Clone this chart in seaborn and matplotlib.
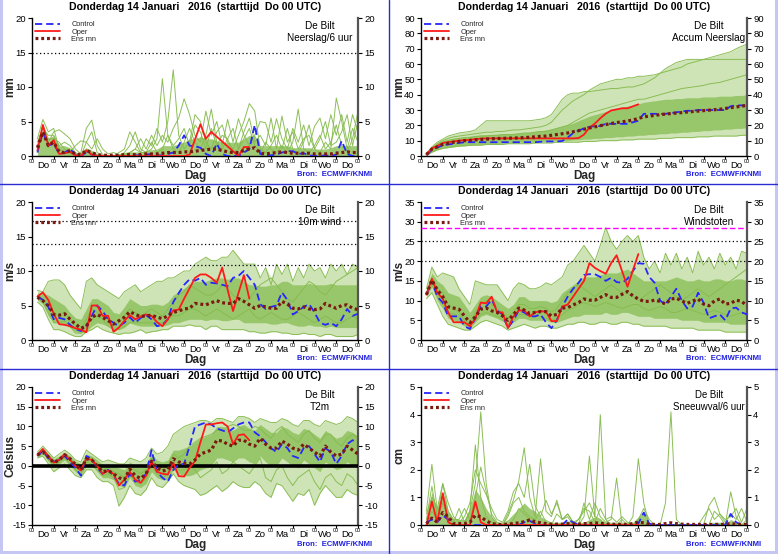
import matplotlib
matplotlib.use("Agg")
import matplotlib.pyplot as plt
import seaborn as sns
import numpy as np
from matplotlib.patches import Rectangle
from matplotlib.lines import Line2D

sns.set_theme(style="white")
plt.rcParams["font.family"] = ["Liberation Sans", "DejaVu Sans"]

# ---------------- time axis (6-hourly steps, 6h .. 360h) ----------------
hours = list(range(6, 361, 6))
day_names = ["Do", "Vr", "Za", "Zo", "Ma", "Di", "Wo", "Do", "Vr", "Za", "Zo", "Ma", "Di", "Wo", "Do"]
title_txt = "Donderdag 14 Januari   2016  (starttijd  Do 00 UTC)"
station = "De Bilt"

# ---------------- Neerslag / 6 uur (mm) ----------------
pr_ctrl = [0.5, 3.5, 1.5, 1.8, 0.3, 0.5, 1.0, 0.2, 0.0, 0.5,
           0.2, 0.0, 0.0, 0.0, 0.0, 0.0, 0.0, 0.0, 0.1, 0.1,
           0.2, 0.3, 0.1, 0.1, 0.3, 0.5, 1.5, 3.0, 1.5, 1.4,
           1.2, 0.3, 0.0, 1.8, 0.3, 0.0, 0.0, 0.0, 0.5, 1.0,
           4.5, 0.3, 0.1, 0.1, 0.2, 0.5, 0.7, 0.7, 0.3, 0.4,
           0.1, 0.0, 0.0, 0.1, 0.0, 0.2, 2.2, 0.3, 0.0, 0.0]
pr_oper = [0.8, 4.5, 1.5, 2.3, 0.3, 0.4, 0.6, 0.1, 0.0, 0.8,
           0.2, 0.0, 0.0, 0.0, 0.0, 0.0, 0.0, 0.0, 0.0, 0.0,
           0.0, 0.0, 0.0, 0.0, 0.0, 0.0, 0.0, 0.0, 0.2, 2.4,
           4.6, 2.5, 3.5, 2.8, 2.1, 1.4, 0.7, 0.0, 1.3, 1.3]
pr_mean = [1.2, 3.5, 1.5, 2.0, 0.6, 0.5, 0.8, 0.3, 0.2, 0.8,
           0.5, 0.2, 0.1, 0.1, 0.1, 0.1, 0.2, 0.2, 0.2, 0.2,
           0.3, 0.3, 0.3, 0.4, 0.5, 0.5, 0.5, 0.6, 0.6, 0.7,
           0.8, 0.9, 1.0, 1.0, 0.8, 0.6, 0.5, 0.5, 0.8, 1.0,
           1.2, 0.4, 0.3, 0.4, 0.5, 0.6, 0.5, 0.4, 0.4, 0.4,
           0.4, 0.3, 0.3, 0.3, 0.3, 0.4, 0.5, 0.6, 0.5, 0.5]
pr_band_lo = [0.0] * 60
pr_band_hi = [1.5, 4.0, 2.5, 3.0, 1.5, 1.5, 1.2, 0.4, 0.5, 1.2,
              0.8, 0.3, 0.1, 0.1, 0.1, 0.2, 0.5, 0.6, 0.6, 0.6,
              0.8, 0.9, 1.0, 1.5, 1.5, 1.5, 1.8, 2.0, 2.5, 2.5,
              2.8, 2.5, 2.5, 2.2, 2.0, 2.0, 2.0, 2.0, 2.5, 3.0,
              3.0, 1.5, 1.5, 1.5, 1.5, 1.5, 1.5, 1.2, 1.2, 1.2,
              1.2, 1.0, 1.0, 1.0, 1.2, 1.5, 1.5, 1.5, 1.5, 1.5]
pr_members = [
    [2.5, 5.3, 3.5, 4.0, 1.0, 0.5, 0.3, 0.0, 0.5, 4.0,
     5.2, 1.5, 0.2, 0.0, 0.0, 0.0, 0.5, 1.5, 3.5, 1.0,
     0.5, 1.0, 2.5, 11.2, 3.0, 1.0, 0.5, 2.0, 4.0, 2.0,
     1.0, 3.0, 6.8, 2.0, 1.0, 2.5, 0.5, 1.0, 2.5, 4.0,
     1.5, 0.5, 2.0, 1.0, 0.5, 1.5, 0.5, 2.0, 6.8, 1.0,
     0.5, 1.5, 3.0, 1.0, 2.0, 4.5, 1.5, 0.5, 2.5, 6.5],
    [1.0, 3.0, 2.0, 3.5, 3.8, 3.2, 2.5, 1.0, 0.3, 1.0,
     0.5, 0.2, 0.0, 0.0, 0.0, 0.5, 1.0, 3.5, 2.0, 0.5,
     2.5, 1.5, 4.0, 2.0, 5.0, 12.5, 3.0, 1.0, 2.0, 6.0,
     5.0, 2.0, 1.0, 3.5, 4.5, 2.0, 1.0, 3.0, 5.0, 7.6,
     6.5, 1.0, 0.5, 1.5, 3.0, 1.0, 4.0, 1.0, 0.5, 2.0,
     4.5, 1.0, 0.5, 2.0, 1.0, 8.4, 5.0, 1.0, 4.0, 2.0],
    [1.5, 4.5, 2.5, 2.5, 2.0, 1.0, 0.5, 1.5, 2.2, 2.0,
     1.0, 2.5, 1.0, 0.3, 0.5, 0.2, 0.3, 0.5, 1.0, 2.5,
     1.0, 3.0, 1.5, 3.0, 2.0, 4.0, 5.5, 8.3, 6.0, 3.0,
     2.0, 6.5, 3.0, 5.0, 1.5, 5.3, 2.0, 5.4, 3.0, 1.5,
     3.0, 5.0, 4.8, 2.0, 5.4, 2.5, 1.0, 4.0, 2.0, 4.5,
     1.5, 4.3, 5.5, 2.5, 6.0, 3.0, 6.0, 2.0, 6.0, 3.5],
    [2.0, 4.0, 3.0, 3.0, 1.5, 2.0, 1.5, 0.5, 0.0, 2.0,
     3.5, 0.5, 0.0, 0.0, 0.0, 0.0, 0.0, 0.5, 1.0, 0.5,
     0.5, 2.0, 0.5, 1.0, 3.0, 1.5, 2.5, 4.0, 1.5, 4.5,
     3.5, 1.0, 4.0, 1.5, 3.0, 2.5, 4.0, 1.0, 3.5, 5.5,
     2.0, 3.0, 1.5, 5.5, 1.0, 5.8, 2.0, 3.5, 1.0, 2.5,
     3.0, 1.0, 2.5, 5.0, 1.5, 2.0, 3.5, 6.0, 1.5, 5.0],
]

# ---------------- Accum Neerslag (mm) ----------------
ac_ctrl = [0.5, 4.0, 5.5, 7.0, 7.5, 8.0, 8.5, 9.0, 9.0, 9.0,
           9.0, 9.0, 9.0, 9.0, 9.0, 9.0, 9.0, 9.0, 9.0, 9.0,
           9.0, 9.3, 9.5, 9.5, 9.5, 9.8, 12.0, 15.0, 16.5, 18.0,
           19.0, 19.5, 19.5, 21.0, 21.0, 21.0, 21.0, 21.0, 22.0, 23.0,
           27.5, 27.5, 27.5, 27.5, 27.5, 28.0, 28.5, 29.0, 29.5, 29.5,
           30.0, 30.0, 30.0, 30.0, 30.0, 30.0, 32.5, 33.0, 33.0, 33.0]
ac_oper = [1.0, 5.0, 6.5, 8.5, 9.0, 9.5, 10.0, 10.3, 10.5, 11.0,
           11.3, 11.5, 11.5, 11.5, 11.5, 11.5, 11.5, 11.5, 11.5, 11.5,
           11.5, 11.5, 11.5, 11.5, 11.5, 11.5, 11.5, 11.5, 11.7, 14.0,
           18.6, 21.1, 24.6, 27.6, 29.7, 30.4, 31.1, 31.1, 32.4, 33.7]
ac_mean = [1.0, 4.5, 6.0, 7.5, 8.3, 9.0, 9.5, 10.0, 10.2, 10.5,
           10.8, 11.0, 11.2, 11.4, 11.5, 11.6, 11.7, 11.8, 12.0, 12.2,
           12.5, 12.8, 13.0, 13.5, 14.0, 14.5, 15.0, 15.8, 16.5, 17.5,
           18.3, 19.0, 19.8, 20.5, 21.2, 21.8, 22.3, 22.8, 23.5, 24.5,
           25.5, 26.0, 26.5, 27.0, 27.3, 27.7, 28.0, 28.3, 28.7, 29.0,
           29.3, 29.6, 29.9, 30.2, 30.5, 31.0, 31.5, 32.0, 32.5, 33.0]
ac_band_lo = [0.3, 2.5, 4.0, 5.0, 5.5, 6.0, 6.5, 7.0, 7.0, 7.5,
              7.5, 8.0, 8.0, 8.0, 8.5, 8.5, 8.5, 9.0, 9.0, 9.0,
              9.0, 9.5, 9.5, 9.5, 10.0, 10.0, 10.0, 10.5, 10.5, 11.0,
              11.0, 11.5, 11.5, 12.0, 12.0, 12.5, 12.5, 13.0, 13.0, 13.5,
              13.5, 14.0, 14.0, 14.5, 14.5, 15.0, 15.0, 15.5, 15.5, 16.0,
              16.0, 16.5, 16.5, 17.0, 17.0, 17.5, 17.5, 18.0, 18.0, 18.5]
ac_band_hi = [1.8, 6.0, 8.5, 10.0, 11.0, 11.5, 12.0, 12.5, 13.0, 13.5,
              13.8, 14.0, 14.0, 14.2, 14.5, 14.5, 14.8, 15.0, 15.2, 15.5,
              16.0, 16.5, 17.0, 17.5, 18.5, 19.5, 20.5, 21.5, 23.0, 24.5,
              26.0, 27.0, 28.0, 29.0, 30.0, 31.0, 32.0, 32.5, 33.0, 34.0,
              35.0, 35.5, 36.0, 36.5, 37.0, 37.0, 37.5, 37.5, 38.0, 38.0,
              38.0, 38.5, 38.5, 38.5, 39.0, 39.0, 39.0, 39.5, 39.5, 40.0]
ac_members = [
    [1, 5, 8, 10, 11.5, 12.5, 13, 13.5, 14, 14.5,
     15, 15.5, 15.5, 16, 16, 16.5, 17, 17, 17.5, 18,
     18.5, 19, 20, 22, 26, 30, 33, 36, 38, 40,
     43, 45, 47, 48, 49, 50, 50, 51, 51, 52,
     52, 52.5, 53, 54, 55, 56, 57, 58, 60, 61,
     62, 63, 64, 65, 66, 67, 68, 70, 71.5, 73],
    [0.5, 2.5, 4, 5, 5.5, 6, 6.5, 6.5, 7, 7,
     7, 7.5, 7.5, 7.5, 7.5, 8, 8, 8, 8, 8,
     8.5, 8.5, 8.5, 8.5, 9, 9, 9, 9, 9, 9.5,
     9.5, 9.5, 10, 10, 10, 10, 10.5, 10.5, 10.5, 11,
     11, 11, 11, 11.5, 11.5, 11.5, 12, 12, 12, 12,
     12.5, 12.5, 12.5, 13, 13, 13, 13, 13, 13.5, 13.5],
    [1.5, 6, 9, 11, 13, 14, 15, 15.5, 16, 17,
     20, 23, 23, 23, 23, 23, 23, 23, 23, 23,
     23.5, 24, 25, 27, 32, 37, 40, 41, 41, 42,
     42, 42.5, 43, 43.5, 44, 44, 44.5, 45, 45, 46,
     47, 49, 51, 54, 57, 59, 61, 62, 63, 63,
     63, 63, 63, 63, 63, 63, 63, 63, 63, 63],
    [1, 4, 7, 9, 10, 11, 11.5, 12, 12, 12.5,
     13, 13, 13.5, 13.5, 14, 14, 14, 14.5, 15, 15,
     15.5, 16, 16, 17, 18, 19, 20, 22, 24, 26,
     28, 29, 30, 31, 32, 33, 34, 35, 36, 37,
     37, 38, 39, 40, 41, 42, 43, 44, 44.5, 45,
     45.5, 46, 47, 47.5, 48, 49, 50, 51, 52, 53],
]

# ---------------- 10m wind (m/s) ----------------
wd_ctrl = [6.3, 5.8, 4.8, 3.0, 3.2, 3.0, 2.2, 1.6, 1.3, 2.0,
           3.5, 5.0, 4.2, 3.0, 2.5, 2.0, 2.5, 3.3, 2.5, 3.2,
           3.6, 3.0, 2.0, 2.2, 3.0, 5.5, 6.8, 8.0, 8.8, 8.6,
           9.0, 8.0, 8.3, 8.2, 8.0, 7.8, 9.0, 9.3, 10.0, 9.0,
           8.0, 5.2, 4.5, 4.8, 5.0, 6.9, 5.8, 3.7, 4.2, 4.8,
           5.2, 4.0, 2.5, 2.2, 2.5, 2.0, 3.0, 4.5, 3.5, 3.8]
wd_oper = [6.3, 6.9, 5.8, 3.8, 2.3, 2.2, 2.0, 1.7, 1.5, 1.1,
           5.0, 5.0, 3.5, 3.5, 1.2, 1.8, 2.8, 3.6, 3.0, 3.4,
           3.7, 3.5, 2.6, 2.0, 3.0, 4.3, 4.4, 6.0, 7.5, 9.0,
           9.5, 9.5, 9.0, 8.3, 10.5, 7.3, 4.2, 6.8, 9.4, 6.0]
wd_mean = [6.2, 5.7, 5.0, 3.7, 3.6, 3.8, 3.0, 2.3, 1.7, 2.0,
           3.3, 3.7, 3.3, 2.8, 2.3, 2.8, 3.3, 4.1, 3.7, 3.4,
           3.5, 3.6, 3.3, 3.1, 3.5, 4.0, 4.2, 4.5, 4.6, 5.3,
           5.2, 5.1, 5.4, 5.7, 5.4, 5.3, 5.3, 6.0, 5.6, 5.1,
           4.6, 5.0, 4.8, 4.6, 4.6, 5.6, 5.2, 4.6, 4.5, 4.8,
           4.5, 4.4, 4.5, 5.3, 4.9, 4.6, 5.0, 5.1, 4.6, 4.4]
wd_band_lo = [5.8, 5.2, 3.5, 2.5, 2.5, 2.3, 1.8, 1.2, 1.0, 1.3,
              2.0, 2.5, 2.3, 2.0, 1.6, 1.5, 1.8, 2.5, 2.2, 2.0,
              2.0, 2.0, 2.0, 2.0, 2.2, 2.5, 2.5, 2.8, 3.0, 3.0,
              3.0, 2.8, 3.0, 3.0, 2.8, 2.8, 3.0, 3.0, 2.5, 2.5,
              2.5, 2.5, 2.5, 2.3, 2.3, 2.5, 2.5, 2.2, 2.0, 2.0,
              2.2, 2.0, 2.0, 1.8, 2.0, 1.8, 1.8, 1.8, 1.8, 1.8]
wd_band_hi = [6.8, 6.8, 6.5, 6.0, 5.5, 5.0, 4.0, 3.2, 3.0, 4.5,
              6.0, 6.0, 5.5, 5.0, 4.0, 3.8, 4.8, 6.0, 5.5, 5.0,
              5.0, 5.2, 5.2, 5.0, 5.5, 6.5, 7.0, 7.5, 8.0, 8.5,
              8.5, 8.5, 8.8, 9.0, 9.0, 8.8, 9.0, 9.0, 8.5, 8.0,
              8.0, 7.8, 7.8, 8.0, 8.0, 8.5, 8.5, 8.0, 8.0, 8.0,
              8.2, 8.0, 8.0, 8.0, 8.2, 8.0, 8.0, 8.0, 8.0, 8.0]
wd_members = [
    [7.2, 7, 8.5, 8.7, 8.7, 8, 6.5, 5.5, 4.5, 8.5,
     9, 8, 7.5, 7, 6.5, 6, 7, 7.5, 8, 7,
     7.5, 8, 8.5, 8.5, 9, 9, 9.5, 10, 10, 11,
     11.5, 12, 11.5, 11.5, 12, 12, 13, 12, 11, 11,
     11, 9, 10.5, 8, 11, 9.5, 11, 8.5, 10.5, 9,
     11, 10, 10.5, 9, 11, 10, 11, 9.5, 11, 10.5],
    [5.5, 4.8, 3, 1.5, 1.5, 1.2, 0.8, 0.5, 0.5, 1.2,
     1.5, 2, 1.5, 1.2, 1, 0.8, 1, 1, 1.2, 1.5,
     1, 1.2, 1.3, 1.5, 1.5, 2, 2, 2, 2.2, 2,
     2, 1.5, 2, 2, 1.5, 1.5, 1.5, 1.5, 1.5, 1.2,
     1.2, 1, 1, 1.2, 1.2, 1, 1, 0.8, 0.8, 1,
     0.8, 0.8, 0.5, 0.8, 0.8, 0.5, 0.5, 0.5, 0.5, 0.8],
    [6.5, 6, 5, 4, 3.5, 4, 3, 2, 1.5, 3,
     4.5, 4, 3.5, 3, 2.5, 2.5, 3.5, 4.5, 4, 3.5,
     4, 4.5, 4, 3.5, 4.5, 5.5, 6.5, 7, 8, 7.5,
     7, 6.5, 6.5, 7, 8, 7.5, 6.5, 6, 5.5, 6,
     7, 8, 8.5, 9, 8, 7, 6, 5.5, 6.5, 7.5,
     8.5, 8, 7, 6.5, 7.5, 8.5, 9, 9.5, 10, 10.5],
    [6, 5.5, 4, 2.5, 2.5, 2.8, 2, 1, 1, 2,
     3, 3.5, 3, 2, 1.5, 1.5, 2, 2.5, 2.5, 2.5,
     2.5, 2.5, 2.5, 2.5, 3, 3.5, 3.5, 4, 4.5, 4.5,
     4, 3.5, 4, 4.5, 4, 3.5, 3, 3.5, 4, 4.5,
     3.5, 3, 3.5, 4, 3.5, 3, 3, 3.5, 4, 3.5,
     3, 2.5, 3, 3.5, 3, 2.5, 2.5, 3, 3.5, 3],
]

# ---------------- Windstoten (m/s) ----------------
gs_ctrl = [11.5, 15.0, 11.0, 9.5, 6.0, 6.0, 6.0, 3.5, 2.8, 5.5,
           8.5, 8.5, 10.2, 7.5, 6.5, 3.0, 5.0, 7.5, 7.0, 6.0,
           6.0, 6.5, 4.5, 3.0, 5.0, 8.5, 11.0, 13.0, 14.5, 16.5,
           16.7, 16.7, 16.0, 15.0, 15.8, 14.7, 14.5, 15.5, 17.5, 19.5,
           19.3, 16.0, 14.5, 10.0, 9.0, 11.0, 13.0, 10.0, 8.0, 8.5,
           12.0, 9.5, 5.5, 6.0, 6.5, 5.0, 8.0, 8.2, 7.0, 6.5]
gs_oper = [11.5, 15.5, 12.0, 10.5, 7.0, 4.5, 4.5, 4.5, 3.5, 5.5,
           9.5, 9.3, 11.0, 7.0, 7.0, 3.0, 6.0, 7.5, 7.5, 6.0,
           7.0, 7.3, 7.2, 4.8, 4.8, 8.5, 9.0, 11.0, 13.0, 15.0,
           19.5, 18.3, 17.5, 16.8, 19.5, 21.5, 17.5, 13.5, 17.7, 21.8]
gs_mean = [11.5, 15.2, 12.7, 11.0, 8.4, 8.1, 7.8, 6.1, 4.4, 5.9,
           7.8, 8.1, 7.4, 7.0, 6.1, 5.0, 6.4, 8.1, 7.6, 6.7,
           7.0, 7.2, 7.2, 6.1, 6.5, 8.1, 8.2, 8.9, 9.5, 10.4,
           10.1, 10.1, 10.8, 11.5, 10.8, 10.8, 11.6, 12.3, 11.2, 10.4,
           9.8, 9.8, 10.1, 9.8, 9.1, 10.4, 10.6, 9.9, 9.3, 9.9,
           10.4, 9.1, 8.7, 9.9, 10.4, 9.1, 9.3, 10.1, 9.8, 8.7]
gs_band_lo = [11.0, 13.5, 10.0, 8.0, 5.5, 5.0, 4.5, 3.5, 3.0, 4.5,
              6.0, 6.5, 6.0, 5.5, 4.8, 3.8, 4.5, 5.5, 5.5, 5.0,
              5.0, 5.0, 5.0, 4.5, 4.5, 5.0, 5.5, 6.0, 6.0, 6.5,
              6.5, 6.5, 6.5, 7.0, 6.5, 6.5, 7.0, 7.0, 6.5, 6.0,
              6.0, 6.0, 5.5, 5.5, 5.5, 5.5, 5.5, 5.0, 5.0, 5.0,
              5.0, 4.5, 4.5, 4.5, 4.5, 4.5, 4.0, 4.0, 4.0, 4.0]
gs_band_hi = [12.5, 17.0, 15.0, 14.0, 12.0, 11.5, 11.0, 9.0, 7.0, 9.0,
              11.0, 11.5, 11.0, 10.0, 9.0, 8.0, 9.0, 11.0, 11.0, 10.0,
              10.0, 10.0, 10.0, 9.5, 10.0, 12.0, 13.0, 14.0, 15.0, 16.0,
              16.0, 16.0, 16.5, 17.0, 17.0, 17.0, 17.5, 18.0, 17.0, 16.0,
              15.0, 15.0, 15.0, 15.0, 15.0, 15.5, 16.0, 15.5, 15.0, 15.0,
              15.5, 15.0, 15.0, 15.5, 15.5, 15.0, 15.0, 15.5, 15.5, 15.0]
gs_members = [
    [13, 18.5, 16, 17, 16.5, 16, 13, 11, 9, 15,
     14.5, 14, 14, 14, 12, 10, 13, 14.5, 14, 13,
     13, 13.5, 14.5, 14, 15, 16, 19, 20, 22, 24,
     22, 20, 24, 28.5, 25, 23, 25, 26.5, 25, 26.5,
     21, 18, 20, 17, 22, 19, 22, 18, 21, 17,
     22.5, 19, 21, 18, 22, 19, 21, 18, 22.5, 22],
    [10.5, 12, 9, 6, 4, 3.5, 3, 2.5, 2.5, 3.5,
     4.5, 5, 4.5, 4, 3.5, 2.5, 3, 3.5, 4, 3.5,
     3, 3.5, 3.5, 3, 3, 3.5, 4, 4, 4.5, 4.5,
     4, 4, 4.5, 4.5, 4, 4, 4.5, 4.5, 4, 4,
     3.5, 3.5, 3.5, 3.5, 3.5, 3, 3, 3, 3, 3,
     2.5, 2.5, 2.5, 2.5, 2.5, 2, 2, 2, 2, 2],
    [12, 16, 13, 12, 9, 8, 7, 5, 4, 7,
     9, 10, 9, 8, 7, 5.5, 7, 9, 9, 8,
     8, 8.5, 8, 7, 8, 10, 12, 13, 14, 13,
     12, 11, 12, 13, 14, 13, 12, 12, 11, 10,
     11, 12, 13, 14, 13, 12, 11, 10, 11, 12,
     13, 12, 11, 12, 13, 14, 15, 16, 17, 18],
    [11.5, 14, 11, 9, 7, 6.5, 6, 4.5, 3.5, 5,
     6.5, 7, 6.5, 6, 5, 4, 5, 6.5, 6.5, 6,
     6, 6, 5.5, 5, 5.5, 6.5, 7.5, 8, 9, 9.5,
     9, 8.5, 9, 9.5, 9, 8.5, 8, 8.5, 9, 9,
     8, 7.5, 8, 8.5, 8, 7, 7, 7.5, 8, 7.5,
     7, 6.5, 7, 7.5, 7, 6.5, 6, 6.5, 7, 6.5],
]

# ---------------- T2m (Celsius) ----------------
t_ctrl = [2.5, 3.8, 2.0, 1.0, 1.5, 2.5, 1.0, -0.5, -2.5, 2.5,
          1.8, -0.5, -2.0, -1.0, -2.5, -4.5, -5.0, -2.0, -4.0, -3.5,
          -2.0, 4.0, -1.5, -3.0, -4.0, -1.0, 0.3, 0.5, 5.0, 10.0,
          10.5, 11.0, 10.5, 9.5, 9.0, 8.5, 9.5, 10.5, 11.0, 11.0,
          8.5, 7.5, 6.0, 4.5, 3.5, 5.5, 4.5, 2.5, 2.0, 4.5,
          5.0, 3.0, 1.0, 4.5, 3.5, 0.5, 2.5, 5.5, 6.5, 6.0]
t_oper = [2.8, 4.3, 2.5, 0.8, 1.5, 3.0, 1.5, 0.0, -1.2, 1.8,
          1.5, 0.0, -2.0, -1.2, -2.0, -5.0, -3.5, -1.5, -3.5, -4.3,
          -2.5, 1.2, -1.5, -2.0, -2.2, 0.8, -2.6, -2.7, -0.5, 1.2,
          6.0, 10.5, 10.5, 10.8, 11.0, 10.0, 5.5, 7.8, 8.0, 6.5]
t_mean = [2.8, 3.5, 2.3, 0.8, 1.5, 2.8, 1.8, 0.3, -1.0, 1.8,
          1.5, 0.0, -1.5, -1.2, -2.0, -3.0, -3.5, -0.8, -2.5, -3.2,
          -2.0, 1.2, -0.5, -1.3, -1.0, 1.8, 1.0, 0.6, 0.5, 1.5,
          3.0, 3.5, 4.0, 6.5, 6.3, 5.5, 5.0, 6.5, 6.5, 5.5,
          5.0, 7.0, 5.5, 4.5, 4.5, 6.3, 5.5, 4.5, 4.0, 5.5,
          4.5, 3.5, 2.5, 5.0, 3.5, 2.5, 3.0, 5.0, 4.0, 3.0]
t_band_lo = [2.2, 3.0, 1.2, -0.5, 0.5, 1.5, 0.0, -1.5, -2.5, 0.0,
             0.0, -1.5, -3.0, -3.0, -3.5, -5.0, -5.5, -3.0, -5.0, -5.5,
             -4.5, -1.5, -3.0, -3.5, -3.5, -1.0, -2.0, -2.5, -2.5, -2.0,
             -1.0, -0.5, 0.0, 2.0, 2.0, 1.5, 1.0, 2.0, 2.0, 1.0,
             0.5, 2.5, 1.0, 0.0, 0.0, 2.0, 1.0, 0.0, -0.5, 1.5,
             0.5, -0.5, -1.5, 1.0, 0.0, -1.0, -0.5, 1.0, 0.0, -0.5]
t_band_hi = [3.2, 4.3, 3.0, 1.8, 2.5, 3.5, 2.5, 1.2, 0.5, 3.0,
             2.5, 1.5, 0.3, 0.5, 0.0, -0.5, -1.0, 1.0, 0.0, -0.5,
             0.5, 3.0, 1.5, 1.0, 1.5, 4.0, 4.0, 4.5, 5.0, 6.0,
             7.0, 7.5, 8.0, 10.0, 10.0, 9.5, 9.0, 10.0, 10.5, 9.5,
             9.0, 10.5, 9.5, 8.5, 8.5, 10.0, 9.5, 8.5, 8.0, 9.5,
             9.0, 8.0, 7.0, 9.0, 8.0, 7.0, 7.5, 9.0, 8.5, 7.5]
t_members = [
    [3.5, 5, 3.5, 2, 3, 4, 3, 1.5, 1, 4,
     3, 2, 1, 1.5, 1, 0.5, 0.5, 2, 1.5, 1,
     2, 4.5, 3, 3.5, 5, 8, 9, 10, 10.5, 11,
     11.5, 11.5, 11, 12, 12, 11.5, 11, 12.5, 12.5, 12,
     11, 12, 11.5, 11, 11, 12, 11.5, 10.5, 10, 11.5,
     11.5, 10.5, 10, 11.5, 11, 10.5, 11, 12.5, 12, 11],
    [2, 2.5, 0.5, -1.5, -0.5, 0.5, -1, -2.5, -3, -1,
     -1, -3, -4, -4, -5, -10.2, -8, -5, -7, -7.5,
     -6, -3, -5, -5.5, -4, -2, -4, -5, -5.5, -6,
     -7.5, -7, -6, -5, -6.5, -5.5, -4, -5, -5.5, -5.5,
     -4, -5, -7, -8, -4.5, -5, -7, -9, -7, -7.5,
     -6, -10, -7, -5, -6.5, -8, -8, -6, -7, -7.5],
    [2.5, 3.5, 1.5, 0, 1, 2, 0.5, -1, -2, 1,
     0.5, -1, -2.5, -2, -3, -6, -5.5, -2, -4, -4.5,
     -3.5, 0, -2, -3, -2, 1, -1, -1, 0, -1,
     -3, -2, -1, 1, -2, -1, 1, 0, -1, -2,
     0, 2, -3, -4, -1, 0, -3, -5, -3, -2,
     -1, -4, -6, -3, -2, -4, -5, -2, -3, -5],
    [3, 4, 2.5, 1, 2, 3, 2, 0.5, -0.5, 2,
     2, 0.5, -1, -0.5, -1.5, -2, -3, -0.5, -1, -2,
     -1, 2, 0, -1, 0, 3, 2, 3, 5, 6,
     7, 7.5, 8, 9, 9, 10, 10.5, 10, 9, 9,
     10, 9.5, 8, 7, 9, 10, 8, 7, 6, 8,
     9, 7, 6, 8, 8, 6, 5, 7, 8, 7],
]

# ---------------- Sneeuwval / 6 uur (cm) ----------------
sn_ctrl = [0.1, 0.2, 0.1, 0.35, 0.2, 0.0, 0.0, 0.0, 0.0, 0.0,
           0.0, 0.0, 0.0, 0.0, 0.0, 0.0, 0.0, 0.0, 0.1, 0.15,
           0.05, 0.0, 0.0, 0.0, 0.0, 0.0, 0.2, 0.1, 0.0, 0.0,
           0.0, 0.0, 0.0, 0.0, 0.0, 0.0, 0.0, 0.0, 0.0, 0.05,
           0.45, 0.05, 0.0, 0.0, 0.0, 0.0, 0.0, 0.0, 0.0, 0.0,
           0.0, 0.0, 0.0, 0.0, 0.0, 0.0, 0.4, 0.1, 0.0, 0.0]
sn_oper = [0.0, 0.85, 0.1, 1.15, 0.1, 0.0, 0.0, 0.0, 0.0, 0.85,
           0.1, 0.0, 0.0, 0.0, 0.0, 0.0, 0.0, 0.0, 0.0, 0.0,
           0.0, 0.0, 0.0, 0.0, 0.0, 0.0, 0.0, 0.0, 0.0, 0.0,
           0.0, 0.0, 0.0, 0.0, 0.0, 0.0, 0.0, 0.0, 0.0, 0.0]
sn_mean = [0.05, 0.25, 0.1, 0.45, 0.3, 0.05, 0.05, 0.05, 0.1, 0.35,
           0.3, 0.15, 0.05, 0.02, 0.02, 0.03, 0.05, 0.08, 0.12, 0.18,
           0.12, 0.08, 0.05, 0.03, 0.03, 0.03, 0.05, 0.03, 0.03, 0.05,
           0.05, 0.08, 0.06, 0.04, 0.03, 0.02, 0.02, 0.02, 0.05, 0.1,
           0.08, 0.03, 0.02, 0.02, 0.05, 0.08, 0.05, 0.03, 0.02, 0.02,
           0.02, 0.02, 0.02, 0.02, 0.02, 0.03, 0.05, 0.03, 0.02, 0.02]
sn_band_lo = [0.0] * 60
sn_band_hi = [0.3, 1.2, 0.5, 1.2, 0.5, 0.2, 0.2, 0.2, 0.6, 1.3,
              1.0, 0.6, 0.3, 0.1, 0.1, 0.2, 0.4, 0.6, 0.8, 0.6,
              0.5, 0.3, 0.2, 0.1, 0.1, 0.1, 0.15, 0.1, 0.1, 0.1,
              0.2, 0.3, 0.2, 0.1, 0.1, 0.1, 0.1, 0.1, 0.1, 0.3,
              0.5, 0.1, 0.05, 0.05, 0.05, 0.05, 0.05, 0.05, 0.05, 0.05,
              0.05, 0.05, 0.05, 0.1, 0.1, 0.05, 0.2, 0.1, 0.05, 0.05]
sn_members = [
    [0, 0.5, 0.2, 0.8, 0.3, 0, 0, 0, 0.5, 1.5,
     4.1, 1.5, 0.3, 0, 0, 0, 0.2, 0.6, 0.4, 0.2,
     0.1, 0, 0, 0, 0, 0, 0, 0, 0.2, 0.5,
     0.8, 0.3, 4.0, 0.2, 0, 0, 0, 0, 0, 0,
     0, 0, 0, 0, 0.8, 4.1, 0.2, 0, 0, 0,
     0, 0, 0, 0, 0, 0, 0, 0, 0, 0],
    [0.5, 2.2, 0.5, 1.0, 0.3, 0.1, 0.6, 0.1, 0.5, 2.9,
     1.0, 0.3, 0.1, 0, 0, 0.3, 0.8, 1.0, 0.5, 0.3,
     0.2, 0.5, 0.1, 0, 0.4, 0.2, 0.3, 0, 0, 0.3,
     2.5, 0.3, 0.2, 0, 0, 0, 0.2, 0, 0.3, 2.4,
     0.8, 0, 0, 0, 0, 0, 0, 0, 0, 0,
     0, 0, 0, 0.5, 0.3, 0, 1.2, 0.3, 0, 0.2],
    [0.2, 1.4, 0.3, 1.5, 0.5, 0.2, 0.2, 0.6, 0.2, 1.0,
     2.1, 1.2, 0.4, 0.1, 0, 0.4, 0.9, 1.6, 2.8, 1.0,
     0.3, 2.4, 0.5, 0.3, 0.9, 0.2, 0.4, 0.1, 0, 0.8,
     0.2, 0.8, 0.3, 0.1, 0.2, 1.7, 0, 0, 0, 0,
     0, 0, 0, 0, 0, 0, 0, 0, 0, 0,
     0, 0, 0.7, 1.0, 0.4, 0.1, 0.4, 0.2, 0.6, 0.1],
    [0.4, 1.0, 0.6, 1.5, 0.8, 0.3, 0.1, 0.3, 0.8, 2.0,
     1.5, 1.1, 0.6, 0.2, 0.1, 0.5, 1.2, 1.5, 1.0, 2.2,
     0.7, 0.3, 0.9, 0.4, 0.8, 0.2, 0.4, 0.1, 0.2, 0.6,
     0.5, 0.1, 0.6, 0.2, 0.3, 0.1, 0.3, 0.1, 0, 0.2,
     0.6, 0.2, 0, 0, 0, 0, 0, 0, 0, 0,
     0, 0.3, 0.6, 0.2, 0.4, 0.2, 0.3, 0.6, 0.1, 0.6],
]

# reference (threshold) levels
pr_levels = [15]
wd_levels = [10.8, 13.9, 17.2]
gs_levels = [20, 25]
gs_alarm = [28.5]
t_levels = [0]

# ---------------- styling ----------------
C_CTRL = "#2626ff"
C_OPER = "#ff1a1a"
C_MEAN = "#7a1a10"
C_MEMB = "#86bb4e"
C_BAND = "#8fc25e"
C_OUTER = "#c9e2ae"
C_BRON = "#1f1fe0"

W, H = 778, 554
fig = plt.figure(figsize=(W / 100, H / 100), dpi=100)
fig.patch.set_facecolor("white")

col_left = [32, 421]
row_top = [18, 202, 387]
ax_w, ax_h = 326, 138

days = [h / 24 for h in hours]

panels = [
    dict(ctrl=pr_ctrl, oper=pr_oper, mean=pr_mean, lo=pr_band_lo, hi=pr_band_hi, mem=pr_members,
         ylim=(0, 20), yt=[0, 5, 10, 15, 20], ylab="mm", name="Neerslag/6 uur", dotted=pr_levels,
         outer=False, fs=7.2),
    dict(ctrl=ac_ctrl, oper=ac_oper, mean=ac_mean, lo=ac_band_lo, hi=ac_band_hi, mem=ac_members,
         ylim=(0, 90), yt=list(range(0, 91, 10)), ylab="mm", name="Accum Neerslag", dotted=[],
         outer=True, fs=7.2),
    dict(ctrl=wd_ctrl, oper=wd_oper, mean=wd_mean, lo=wd_band_lo, hi=wd_band_hi, mem=wd_members,
         ylim=(0, 20), yt=[0, 5, 10, 15, 20], ylab="m/s", name="10m wind", dotted=wd_levels,
         outer=True, fs=7.2),
    dict(ctrl=gs_ctrl, oper=gs_oper, mean=gs_mean, lo=gs_band_lo, hi=gs_band_hi, mem=gs_members,
         ylim=(0, 35), yt=list(range(0, 36, 5)), ylab="m/s", name="Windstoten", dotted=gs_levels,
         alarm=gs_alarm, outer=True, fs=7.2),
    dict(ctrl=t_ctrl, oper=t_oper, mean=t_mean, lo=t_band_lo, hi=t_band_hi, mem=t_members,
         ylim=(-15, 20), yt=list(range(-15, 21, 5)), ylab="Celsius", name="T2m", dotted=[],
         zero=t_levels, outer=True, fs=7.2),
    dict(ctrl=sn_ctrl, oper=sn_oper, mean=sn_mean, lo=sn_band_lo, hi=sn_band_hi, mem=sn_members,
         ylim=(0, 5), yt=[0, 1, 2, 3, 4, 5], ylab="cm", name="Sneeuwval/6 uur", dotted=[],
         outer=False, fs=6.9),
]

for k, p in enumerate(panels):
    r, c = divmod(k, 2)
    left = col_left[c] / W
    bottom = 1 - (row_top[r] + ax_h) / H
    ax = fig.add_axes([left, bottom, ax_w / W, ax_h / H])
    ax.set_facecolor("white")

    # ensemble spread: outer envelope of the members, dense core band, individual members
    if p["outer"]:
        stack = np.array(p["mem"] + [p["lo"], p["hi"]], dtype=float)
        ax.fill_between(days, stack.min(axis=0), stack.max(axis=0), color=C_OUTER, alpha=0.9,
                        lw=0, zorder=1)
    ax.fill_between(days, p["lo"], p["hi"], color=C_BAND, alpha=0.85, lw=0, zorder=1.5)
    for m in p["mem"]:
        sns.lineplot(x=days, y=m, ax=ax, color=C_MEMB, lw=0.7, alpha=0.95,
                     errorbar=None, legend=False, zorder=2)

    # reference levels
    for lv in p["dotted"]:
        ax.axhline(lv, color="black", lw=0.9, linestyle=(0, (1, 2)), zorder=3)
    for lv in p.get("alarm", []):
        ax.axhline(lv, color="#ff00ff", lw=1.0, linestyle=(0, (4, 2)), zorder=3)
    for lv in p.get("zero", []):
        ax.axhline(lv, color="black", lw=2.6, zorder=3)

    sns.lineplot(x=days, y=p["ctrl"], ax=ax, color=C_CTRL, lw=1.3, linestyle=(0, (4, 2.2)),
                 errorbar=None, label="Control", zorder=5)
    sns.lineplot(x=days[:len(p["oper"])], y=p["oper"], ax=ax, color=C_OPER, lw=1.3,
                 errorbar=None, label="Oper", zorder=6)
    sns.lineplot(x=days, y=p["mean"], ax=ax, color=C_MEAN, lw=2.3, linestyle=(0, (0.9, 0.9)),
                 errorbar=None, label="Ens mn", zorder=7)

    ax.set_xlim(0, 15)
    ax.set_ylim(*p["ylim"])
    ax.set_yticks(p["yt"])
    ax.set_yticklabels([str(v) for v in p["yt"]])
    ax.set_xticks(list(range(16)))
    ax.set_xticklabels(["00"] * 16)
    ax.set_xticks([d + 0.5 for d in range(15)], minor=True)
    ax.set_xticklabels(day_names, minor=True)
    ax.tick_params(axis="x", which="major", bottom=True, length=2, width=0.8, labelsize=4,
                   pad=0.5, colors="black")
    ax.tick_params(axis="x", which="minor", bottom=True, length=0, labelsize=6.8, pad=3.8,
                   colors="black")
    ax.tick_params(axis="y", which="major", left=True, right=True, labelleft=True, labelright=True,
                   length=3, width=0.8, labelsize=6.8, pad=1.5, colors="black")

    ax.spines["top"].set_visible(False)
    ax.spines["left"].set_color("black")
    ax.spines["left"].set_linewidth(1.0)
    ax.spines["bottom"].set_color("black")
    ax.spines["bottom"].set_linewidth(1.0)
    ax.spines["right"].set_color("#555555")
    ax.spines["right"].set_linewidth(1.6)

    ax.set_xlabel("Dag", fontsize=8.5, fontweight="bold", labelpad=0)
    ax.set_ylabel(p["ylab"], fontsize=8.5, fontweight="bold")
    ax.yaxis.set_label_coords(-0.048, 0.5)

    ax.text(0.5, 1 + 11 / ax_h, title_txt, transform=ax.transAxes, ha="center", va="center",
            fontsize=7.6, fontweight="bold", color="black")
    ax.text(0.883, 0.975, station + "\n" + p["name"], transform=ax.transAxes, ha="center",
            va="top", fontsize=p["fs"], linespacing=1.15, color="black", zorder=8)
    ax.text(1.043, -19 / ax_h, "Bron:  ECMWF/KNMI", transform=ax.transAxes, ha="right",
            va="center", fontsize=5.5, fontweight="bold", color=C_BRON)

    leg = ax.legend(loc="upper left", bbox_to_anchor=(0.0, 1.0), frameon=False, fontsize=5.3,
                    handlelength=3.3, handletextpad=1.6, labelspacing=0.02, borderaxespad=0.25,
                    borderpad=0.2)
    leg.set_zorder(9)

# separators and frame
sep = "#2b2bd6"
fig.add_artist(Line2D([0, 1], [1 - 184 / H, 1 - 184 / H], color=sep, lw=1.0, transform=fig.transFigure))
fig.add_artist(Line2D([0, 1], [1 - 369 / H, 1 - 369 / H], color=sep, lw=1.0, transform=fig.transFigure))
fig.add_artist(Line2D([389 / W, 389 / W], [0, 1], color=sep, lw=1.0, transform=fig.transFigure))
lav = "#c6c6f4"
fig.add_artist(Rectangle((0, 0), 3 / W, 1, color=lav, transform=fig.transFigure, lw=0))
fig.add_artist(Rectangle((1 - 3 / W, 0), 3 / W, 1, color=lav, transform=fig.transFigure, lw=0))
fig.add_artist(Rectangle((0, 0), 1, 3 / H, color=lav, transform=fig.transFigure, lw=0))

fig.savefig("out.png", dpi=100, facecolor="white")
